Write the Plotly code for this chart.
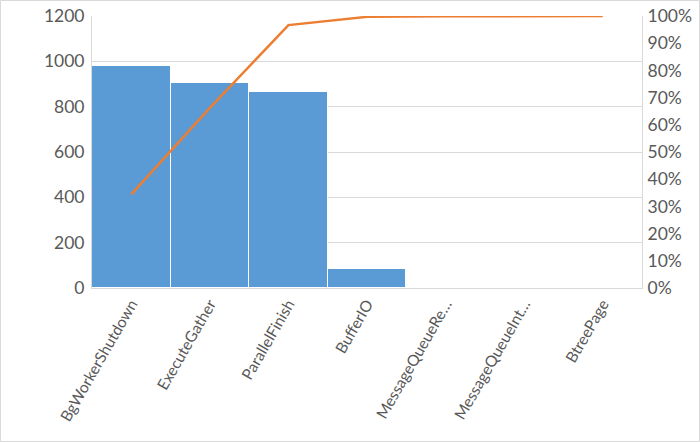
import plotly.graph_objects as go

categories = ["BgWorkerShutdown", "ExecuteGather", "ParallelFinish", "BufferIO",
              "MessageQueueRe…", "MessageQueueInt…", "BtreePage"]
values = [980, 906, 866, 86, 6, 2, 1]

total = sum(values)
cum = []
s = 0
for v in values:
    s += v
    cum.append(s / total)

font_family = "Lato, 'Open Sans', sans-serif"
tick_color = "#595959"
grid_color = "#D9D9D9"

fig = go.Figure()
fig.add_trace(go.Bar(
    x=categories, y=values, marker=dict(color="#5B9BD5", line=dict(color="#FFFFFF", width=1)),
    width=1.0, showlegend=False, yaxis="y"))
fig.add_trace(go.Scatter(
    x=categories, y=cum, mode="lines", line=dict(color="#ED7D31", width=2.5),
    showlegend=False, yaxis="y2"))

fig.update_layout(
    width=700, height=442,
    margin=dict(l=92, r=58, t=16, b=154),
    paper_bgcolor="white", plot_bgcolor="white",
    font=dict(family=font_family, size=17, color=tick_color),
    bargap=0,
    xaxis=dict(tickangle=-60, showgrid=False, showline=True, linecolor=grid_color,
               mirror=False, ticks="", automargin=False,
               tickfont=dict(size=15.5, color=tick_color)),
    yaxis=dict(range=[0, 1200], dtick=200, showgrid=True, gridcolor=grid_color,
               showline=True, linecolor=grid_color, zeroline=False, ticks="",
               automargin=False, ticklabelstandoff=3,
               tickfont=dict(size=17.5, color=tick_color)),
    yaxis2=dict(range=[0, 1], dtick=0.1, tickformat=".0%", overlaying="y", side="right",
                showgrid=False, showline=True, linecolor=grid_color, zeroline=False,
                ticks="", automargin=False, ticklabelstandoff=1,
                tickfont=dict(size=17.5, color=tick_color)),
    shapes=[dict(type="rect", xref="paper", yref="paper", x0=-91.5/550, x1=1+57.5/550,
                 y0=-153.5/272, y1=1+15.5/272, line=dict(color="#D9D9D9", width=1))],
)

fig.write_html("out.html", config={"displayModeBar": False},
               post_script="document.body.style.margin='0';document.body.style.overflow='hidden';")
